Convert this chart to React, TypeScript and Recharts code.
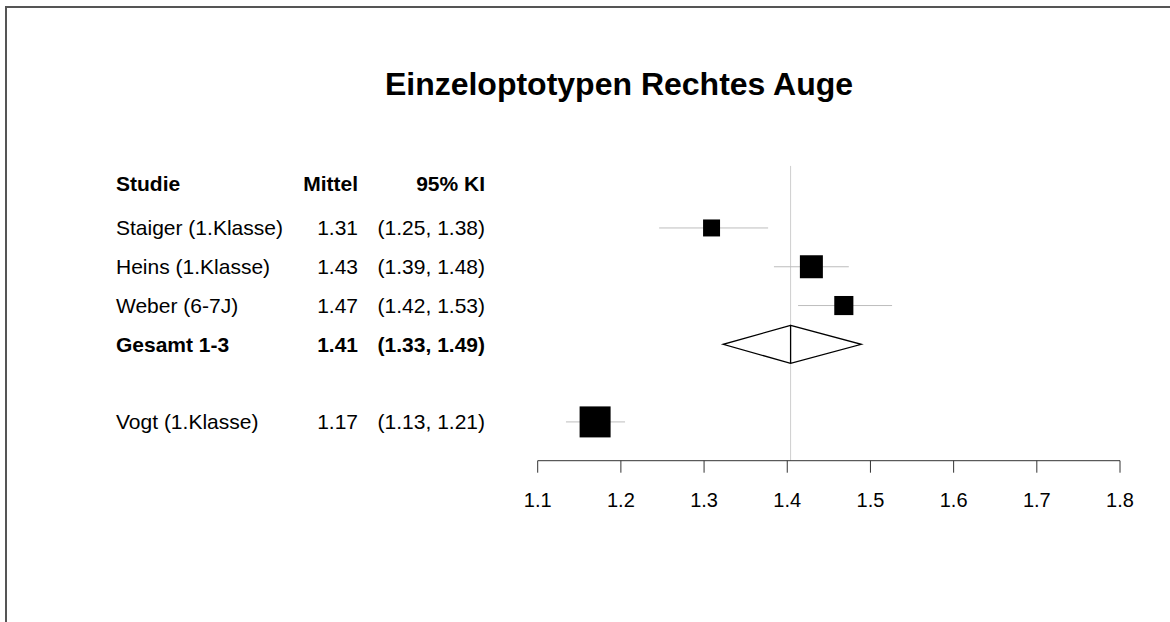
/* Forest plot — Einzeloptotypen Rechtes Auge */
import { ScatterChart, Scatter, XAxis, YAxis, ErrorBar, ReferenceLine } from 'recharts';

const FONT = '"Liberation Sans", Arial, Helvetica, sans-serif';

// studies (row index counted from the first study, top to bottom)
const studyNames = ['Staiger (1.Klasse)', 'Heins (1.Klasse)', 'Weber (6-7J)', 'Vogt (1.Klasse)'];
const studyRows = [0, 1, 2, 5];
const studyMeans = [1.309, 1.429, 1.468, 1.169];
const studyLower = [1.246, 1.384, 1.413, 1.134];
const studyUpper = [1.377, 1.474, 1.526, 1.205];
const studyWeights = [30, 55, 38, 100]; // relative box area
const meanLabels = ['1.31', '1.43', '1.47', '1.17'];
const ciLabels = ['(1.25, 1.38)', '(1.39, 1.48)', '(1.42, 1.53)', '(1.13, 1.21)'];

// pooled estimate of studies 1-3
const pooledName = 'Gesamt 1-3';
const pooledRow = 3;
const pooledMean = 1.404;
const pooledLower = 1.323;
const pooledUpper = 1.489;
const pooledMeanLabel = '1.41';
const pooledCiLabel = '(1.33, 1.49)';

const headerRow = -1.15;
const headerLabels = ['Studie', 'Mittel', '95% KI'];
const xTicks = [1.1, 1.2, 1.3, 1.4, 1.5, 1.6, 1.7, 1.8];

const DIAMOND_HALF = 0.49;
const BOX_MAX = 31;

const squares = studyNames.map((n, i) => ({
  name: n,
  x: studyMeans[i],
  y: studyRows[i],
  w: studyWeights[i],
  err: [studyMeans[i] - studyLower[i], studyUpper[i] - studyMeans[i]],
}));

// path: top -> left -> bottom -> right -> top -> bottom (includes centre line)
const diamond = [
  { x: pooledMean, y: pooledRow - DIAMOND_HALF },
  { x: pooledLower, y: pooledRow },
  { x: pooledMean, y: pooledRow + DIAMOND_HALF },
  { x: pooledUpper, y: pooledRow },
  { x: pooledMean, y: pooledRow - DIAMOND_HALF },
  { x: pooledMean, y: pooledRow + DIAMOND_HALF },
];

const tableRows = [
  { y: headerRow, name: headerLabels[0], mean: headerLabels[1], ci: headerLabels[2], bold: true },
  ...studyNames.map((n, i) => ({ y: studyRows[i], name: n, mean: meanLabels[i], ci: ciLabels[i], bold: false })),
  { y: pooledRow, name: pooledName, mean: pooledMeanLabel, ci: pooledCiLabel, bold: true },
];

const RowTick = (props: any) => {
  const { y, payload } = props;
  const row = tableRows.find((r) => Math.abs(r.y - payload.value) < 1e-6);
  if (!row) return null;
  const by = y + 7.5;
  return (
    <g fontFamily={FONT} fontSize={21} fill="#000" fontWeight={row.bold ? 'bold' : 'normal'}>
      <text x={116} y={by}>{row.name}</text>
      <text x={358} y={by} textAnchor="end">{row.mean}</text>
      <text x={485} y={by} textAnchor="end">{row.ci}</text>
    </g>
  );
};

const Box = (p: any) => {
  const s = BOX_MAX * Math.sqrt((p.payload?.w ?? 50) / 100);
  return <rect x={p.cx - s / 2} y={p.cy - s / 2} width={s} height={s} fill="#000" />;
};

export default function App() {
  return (
    <div style={{ position: 'fixed', left: 0, top: 0, width: 1170, height: 622, background: '#fff' }}>
      <div style={{
        position: 'absolute', left: 5, top: 6, right: 0, bottom: 0,
        borderTop: '2px solid #555', borderLeft: '2px solid #555',
      }} />
      <div style={{
        position: 'absolute', left: 319, width: 600, top: 68, lineHeight: '32px',
        textAlign: 'center', fontFamily: FONT, fontSize: 32, fontWeight: 'bold', color: '#000',
      }}>
        Einzeloptotypen Rechtes Auge
      </div>
      <div style={{ position: 'absolute', left: 0, top: 0 }}>
        <ScatterChart width={1170} height={622}
          margin={{ top: 72.8, right: 50, left: 0, bottom: 121.3 }}>
          <XAxis type="number" dataKey="x" domain={[1.1, 1.8]} ticks={xTicks}
            allowDataOverflow height={40} tickSize={12} tickMargin={20}
            stroke="#333" tickFormatter={(v: number) => v.toFixed(1)}
            tick={{ fontSize: 20, fontFamily: FONT, fill: '#000' }} />
          <YAxis type="number" dataKey="y" domain={[-4, 6]} reversed allowDataOverflow
            ticks={tableRows.map((r) => r.y)} interval={0} width={537.7}
            axisLine={false} tickLine={false} tick={<RowTick />} />
          <ReferenceLine segment={[{ x: pooledMean, y: -1.6 }, { x: pooledMean, y: 6 }]}
            stroke="#cfcfcf" strokeWidth={1} />
          <Scatter data={squares} shape={<Box />} isAnimationActive={false}>
            <ErrorBar dataKey="err" direction="x" width={0} stroke="#bdbdbd" strokeWidth={1} />
          </Scatter>
          <Scatter data={diamond} line={{ stroke: '#000', strokeWidth: 1.3 }}
            shape={() => <g />} isAnimationActive={false} />
        </ScatterChart>
      </div>
    </div>
  );
}
